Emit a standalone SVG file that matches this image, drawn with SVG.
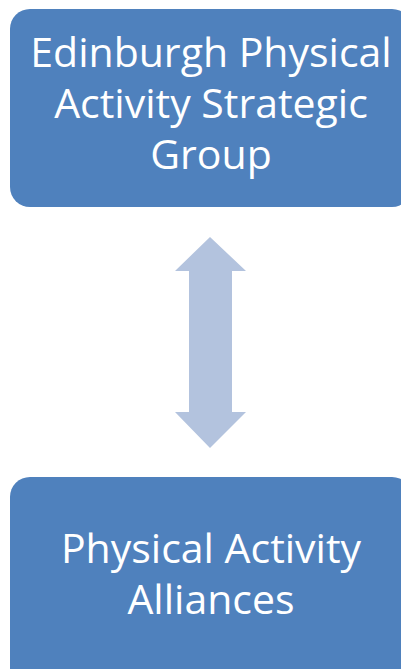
<svg xmlns="http://www.w3.org/2000/svg" width="401" height="669" viewBox="0 0 401 669">
  <style>
    .box { fill: #4F81BD; }
    .lbl { fill: #FFFFFF; font-family: "Open Sans", "Noto Sans", sans-serif; font-size: 41px; text-anchor: middle; }
    .arrow { fill: #B3C3DE; }
  </style>
  <rect width="401" height="669" fill="#FFFFFF"/>
  <g id="node-strategic-group">
    <rect class="box" x="10" y="9" width="402" height="198" rx="20" ry="20"/>
    <text class="lbl" x="211" y="67">Edinburgh Physical</text>
    <text class="lbl" x="211" y="118">Activity Strategic</text>
    <text class="lbl" x="211" y="169">Group</text>
  </g>
  <g id="node-alliances">
    <rect class="box" x="10" y="477" width="402" height="220" rx="20" ry="20"/>
    <text class="lbl" x="211" y="563">Physical Activity</text>
    <text class="lbl" x="211" y="614">Alliances</text>
  </g>
  <g id="connectors">
    <polygon class="arrow" points="210,237 246,271 232,271 232,412 246,412 210,448 175,412 189,412 189,271 175,271"/>
  </g>
</svg>
